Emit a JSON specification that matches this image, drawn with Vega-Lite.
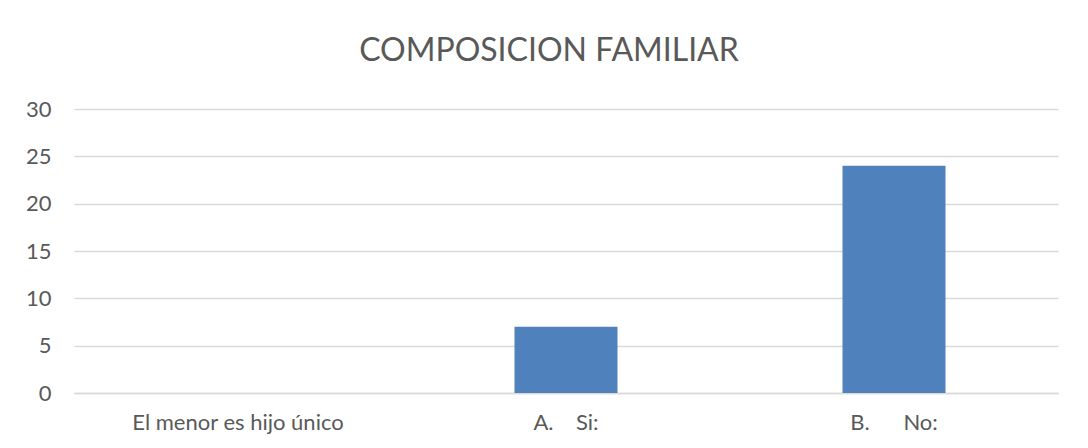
{
  "$schema": "https://vega.github.io/schema/vega-lite/v6.json",
  "autosize": {"type": "none"},
  "width": 984,
  "height": 284,
  "padding": {"left": 74, "top": 109, "right": 30, "bottom": 55},
  "background": "white",
  "title": {
    "text": "COMPOSICION FAMILIAR",
    "font": "Lato",
    "fontSize": 32,
    "fontWeight": "normal",
    "color": "#595959",
    "anchor": "middle",
    "dx": -17,
    "offset": 30
  },
  "data": {
    "values": [
      {"categoria": "El menor es hijo único", "valor": 0},
      {"categoria": "A.\u00a0\u00a0\u00a0\u00a0Si:", "valor": 7},
      {"categoria": "B.\u00a0\u00a0\u00a0\u00a0\u00a0\u00a0No:", "valor": 24}
    ]
  },
  "mark": {"type": "bar", "color": "#4F81BD"},
  "encoding": {
    "x": {
      "field": "categoria",
      "type": "nominal",
      "sort": null,
      "scale": {"paddingInner": 0.686, "paddingOuter": 0.343},
      "axis": {
        "title": null,
        "labelAngle": 0,
        "labelFont": "Lato",
        "labelFontSize": 22,
        "labelLimit": 0,
        "labelColor": "#595959",
        "labelPadding": 19,
        "ticks": false,
        "domain": true,
        "domainColor": "#D9D9D9",
        "domainWidth": 1.5
      }
    },
    "y": {
      "field": "valor",
      "type": "quantitative",
      "scale": {"domain": [0, 30]},
      "axis": {
        "title": null,
        "values": [0, 5, 10, 15, 20, 25, 30],
        "labelFont": "Lato",
        "labelFontSize": 22,
        "labelColor": "#595959",
        "labelPadding": 23,
        "ticks": false,
        "domain": false,
        "gridColor": "#D9D9D9",
        "gridWidth": 1.5
      }
    }
  },
  "config": {
    "view": {"stroke": null}
  }
}
